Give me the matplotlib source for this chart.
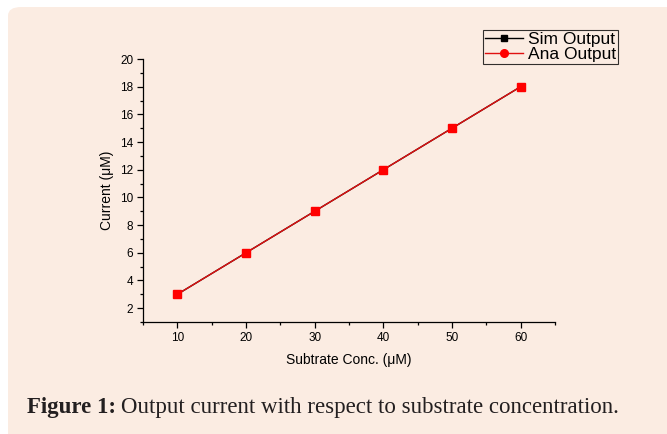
import matplotlib
matplotlib.use("Agg")
import matplotlib.pyplot as plt
from matplotlib.patches import FancyBboxPatch
from matplotlib.ticker import MultipleLocator

# data
conc = [10, 20, 30, 40, 50, 60]
sim_out = [3, 6, 9, 12, 15, 18]
ana_out = [3, 6, 9, 12, 15, 18]

BG = "#FBECE2"
W, H = 667, 434

fig = plt.figure(figsize=(6.67, 4.34), dpi=100)
fig.patch.set_facecolor("white")

# rounded caption panel behind everything
panel = FancyBboxPatch((8 / W, -20 / H), 680 / W, 447 / H,
                       boxstyle="round,pad=0,rounding_size=0.02",
                       transform=fig.transFigure, facecolor=BG,
                       edgecolor="none", zorder=-5)
fig.patches.append(panel)

ax = fig.add_axes([143 / W, 112 / H, 412 / W, 263 / H])
ax.set_zorder(2)
ax.set_facecolor("none")

ax.plot(conc, sim_out, color="black", lw=1.0, marker="s", ms=5,
        label="Sim Output", zorder=3)
ax.plot(conc, ana_out, color="#E01010", lw=1.0, marker="o", ms=5.5,
        mfc="red", mec="red", label="Ana Output", zorder=4)
# markers in the plot look squarish red
ax.plot(conc, ana_out, ls="none", marker="s", ms=5.5, mfc="red", mec="red",
        zorder=5)

ax.set_xlim(5, 65)
ax.set_ylim(1, 20)
ax.xaxis.set_major_locator(MultipleLocator(10))
ax.xaxis.set_minor_locator(MultipleLocator(5))
ax.set_yticks([2, 4, 6, 8, 10, 12, 14, 16, 18, 20])
ax.yaxis.set_minor_locator(MultipleLocator(1))

for s in ["top", "right"]:
    ax.spines[s].set_visible(False)
for s in ["left", "bottom"]:
    ax.spines[s].set_linewidth(0.9)

ax.tick_params(which="major", direction="out", length=4, width=0.9,
               labelsize=8.5, pad=3)
ax.tick_params(which="minor", direction="out", length=2.5, width=0.9)
for lab in ax.get_xticklabels() + ax.get_yticklabels():
    lab.set_family("Liberation Sans")

ax.set_xlabel("Subtrate Conc. (\u03bcM)", fontsize=10, family="Liberation Sans",
              labelpad=7)
ax.set_ylabel("Current (\u03bcM)", fontsize=10, family="Liberation Sans",
              labelpad=4)

leg = ax.legend(loc="upper right", bbox_to_anchor=(618 / W, 1 - 30 / H),
                bbox_transform=fig.transFigure,
                fontsize=12.5, frameon=True, fancybox=False,
                handlelength=2.2, handletextpad=0.3, borderpad=0.1,
                labelspacing=0.0, borderaxespad=0, markerscale=1.0)
leg.get_frame().set_facecolor("none")
leg.get_frame().set_edgecolor("black")
leg.get_frame().set_linewidth(0.8)
for t in leg.get_texts():
    t.set_family("Liberation Sans")

# caption
cap_y = 1 - 407 / H
t1 = fig.text(27 / W, cap_y, "Figure 1:", fontsize=16.5, fontweight="bold",
              family="Liberation Serif", color="#231f20", va="center", ha="left")
fig.canvas.draw()
bb = t1.get_window_extent()
fig.text((bb.x1 + 5) / W, cap_y,
         "Output current with respect to substrate concentration.",
         fontsize=16.5, family="Liberation Serif", color="#231f20",
         va="center", ha="left")

fig.savefig("out.png", dpi=100, facecolor=fig.get_facecolor())
